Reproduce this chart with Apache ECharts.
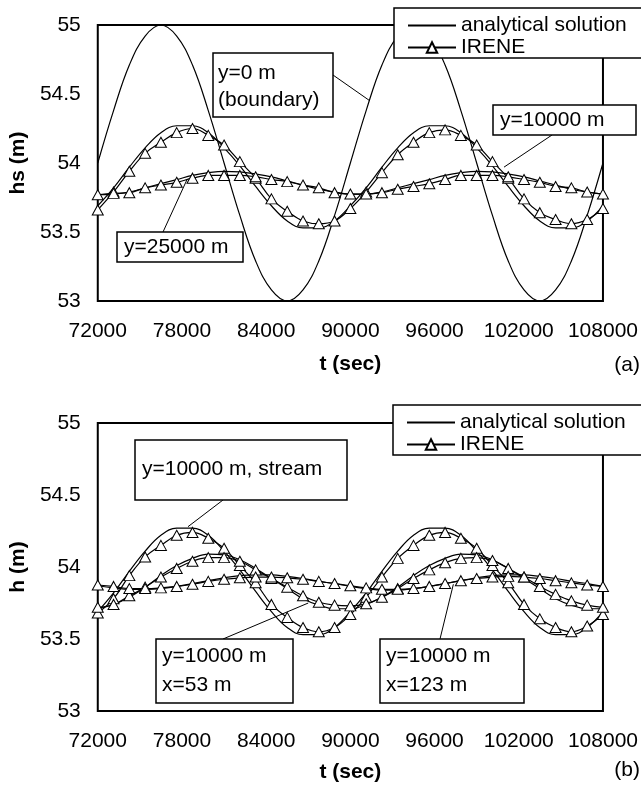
<!DOCTYPE html>
<html>
<head>
<meta charset="utf-8">
<script src="https://cdn.jsdelivr.net/npm/echarts@6/dist/echarts.min.js"></script>
<style>
  html, body { margin: 0; padding: 0; background: #fff; }
  #chart { width: 641px; height: 787px; }
</style>
</head>
<body>
<div id="chart"></div>
<script>
// time axis (sec), one IRENE output every 1125 s
var times = [72000, 73125, 74250, 75375, 76500, 77625, 78750, 79875, 81000, 82125, 83250,
  84375, 85500, 86625, 87750, 88875, 90000, 91125, 92250, 93375, 94500, 95625, 96750,
  97875, 99000, 100125, 101250, 102375, 103500, 104625, 105750, 106875, 108000];
var xTicks = { min: 72000, max: 108000, step: 6000 };
var yTicks = { min: 53, max: 55, step: 0.5 };

// (a) hs at y=0, 10000, 25000 m
var boundaryExact = [54.00, 54.38, 54.71, 54.92, 55.00, 54.92, 54.71, 54.38, 54.00, 53.62, 53.29,
  53.08, 53.00, 53.08, 53.29, 53.62, 54.00, 54.38, 54.71, 54.92, 55.00, 54.92, 54.71,
  54.38, 54.00, 53.62, 53.29, 53.08, 53.00, 53.08, 53.29, 53.62, 54.00];
var y10kExact = [53.69, 53.82, 53.97, 54.11, 54.22, 54.27, 54.27, 54.22, 54.11, 53.98, 53.83,
  53.69, 53.58, 53.53, 53.53, 53.58, 53.69, 53.82, 53.97, 54.11, 54.22, 54.27, 54.27,
  54.22, 54.11, 53.98, 53.83, 53.69, 53.58, 53.53, 53.53, 53.58, 53.69];
var y10kIrene = [53.66, 53.79, 53.94, 54.07, 54.15, 54.22, 54.25, 54.20, 54.13, 54.01, 53.89,
  53.74, 53.65, 53.58, 53.56, 53.58, 53.67, 53.79, 53.93, 54.06, 54.15, 54.22, 54.24,
  54.20, 54.13, 54.01, 53.89, 53.74, 53.64, 53.59, 53.56, 53.59, 53.67];
var y25kExact = [53.77, 53.775, 53.79, 53.82, 53.85, 53.88, 53.91, 53.93, 53.94, 53.935, 53.92,
  53.90, 53.87, 53.84, 53.81, 53.79, 53.775, 53.775, 53.79, 53.82, 53.85, 53.88, 53.91,
  53.93, 53.94, 53.935, 53.92, 53.90, 53.87, 53.84, 53.81, 53.79, 53.775];
var y25kIrene = [53.77, 53.78, 53.785, 53.82, 53.84, 53.86, 53.89, 53.91, 53.91, 53.91, 53.90,
  53.88, 53.865, 53.84, 53.82, 53.785, 53.775, 53.775, 53.785, 53.81, 53.83, 53.85, 53.88,
  53.91, 53.91, 53.91, 53.90, 53.88, 53.86, 53.83, 53.82, 53.79, 53.775];

// (b) h at y=10000 m: stream, x=53 m, x=123 m
var streamExact = [53.69, 53.82, 53.97, 54.11, 54.22, 54.27, 54.27, 54.22, 54.11, 53.98, 53.83,
  53.69, 53.58, 53.53, 53.53, 53.58, 53.69, 53.82, 53.97, 54.11, 54.22, 54.27, 54.27,
  54.22, 54.11, 53.98, 53.83, 53.69, 53.58, 53.53, 53.53, 53.58, 53.69];
var streamIrene = [53.68, 53.78, 53.94, 54.07, 54.15, 54.22, 54.24, 54.20, 54.13, 54.01, 53.89,
  53.74, 53.65, 53.58, 53.55, 53.58, 53.67, 53.79, 53.93, 54.06, 54.15, 54.22, 54.24,
  54.20, 54.13, 54.01, 53.89, 53.74, 53.64, 53.58, 53.55, 53.59, 53.67];
var x53Exact = [53.71, 53.74, 53.79, 53.86, 53.94, 54.01, 54.06, 54.09, 54.085, 54.05, 53.99,
  53.92, 53.85, 53.78, 53.735, 53.71, 53.71, 53.74, 53.79, 53.86, 53.94, 54.01, 54.06,
  54.09, 54.085, 54.05, 53.99, 53.92, 53.85, 53.78, 53.735, 53.71, 53.71];
var x53Irene = [53.72, 53.74, 53.80, 53.86, 53.93, 53.99, 54.04, 54.065, 54.065, 54.04, 53.98,
  53.92, 53.86, 53.80, 53.755, 53.735, 53.73, 53.745, 53.79, 53.85, 53.92, 53.98, 54.03,
  54.06, 54.065, 54.045, 53.99, 53.93, 53.865, 53.81, 53.765, 53.735, 53.72];
var x123Exact = [53.87, 53.855, 53.845, 53.845, 53.85, 53.865, 53.885, 53.905, 53.925, 53.94, 53.945,
  53.945, 53.935, 53.92, 53.90, 53.885, 53.865, 53.85, 53.84, 53.84, 53.85, 53.865, 53.885,
  53.905, 53.925, 53.94, 53.945, 53.945, 53.935, 53.92, 53.90, 53.885, 53.865];
var x123Irene = [53.875, 53.865, 53.85, 53.85, 53.855, 53.865, 53.88, 53.90, 53.915, 53.925, 53.93,
  53.93, 53.925, 53.915, 53.90, 53.885, 53.87, 53.855, 53.845, 53.845, 53.85, 53.865, 53.885,
  53.905, 53.92, 53.93, 53.935, 53.93, 53.92, 53.905, 53.89, 53.875, 53.865];

var FONT = '"Liberation Sans", Arial, sans-serif';
var chart = echarts.init(document.getElementById('chart'));

function pairs(vals) {
  return times.map(function (t, i) { return [t, vals[i]]; });
}
function exact(vals, k) {
  return {
    name: 'analytical solution', type: 'line', xAxisIndex: k, yAxisIndex: k,
    data: pairs(vals), smooth: 0.4, symbol: 'none',
    lineStyle: { color: '#000', width: 1.2 }, itemStyle: { color: '#000' }, z: 3
  };
}
function irene(vals, k) {
  return {
    name: 'IRENE', type: 'line', xAxisIndex: k, yAxisIndex: k,
    data: pairs(vals), smooth: 0.4, symbol: 'triangle', symbolSize: [11, 10],
    showSymbol: true, showAllSymbol: true,
    lineStyle: { color: '#000', width: 1.2 },
    itemStyle: { color: '#fff', borderColor: '#000', borderWidth: 1 }, z: 4
  };
}
function xAx(k, gap) {
  return {
    type: 'value', gridIndex: k, min: xTicks.min, max: xTicks.max, interval: xTicks.step,
    name: 't (sec)', nameLocation: 'middle', nameGap: gap,
    nameTextStyle: { fontFamily: FONT, fontSize: 21, fontWeight: 'bold', color: '#000', lineHeight: 21 },
    axisLine: { show: false }, axisTick: { show: false }, splitLine: { show: false },
    axisLabel: { fontFamily: FONT, fontSize: 21, color: '#000', margin: 20, lineHeight: 21,
      showMinLabel: true, showMaxLabel: true,
      formatter: function (v) { return String(v); } }
  };
}
function yAx(k, name, gap) {
  return {
    type: 'value', gridIndex: k, min: yTicks.min, max: yTicks.max, interval: yTicks.step,
    name: name, nameLocation: 'middle', nameGap: gap,
    nameTextStyle: { fontFamily: FONT, fontSize: 21, fontWeight: 'bold', color: '#000', lineHeight: 21 },
    axisLine: { show: false }, axisTick: { show: false }, splitLine: { show: false },
    axisLabel: { fontFamily: FONT, fontSize: 21, color: '#000', margin: 17 }
  };
}
function legend(left, top) {
  return {
    left: left, top: top, orient: 'vertical', itemGap: 1,
    itemWidth: 48, itemHeight: 13, padding: [7, 30, 0, 13],
    backgroundColor: '#fff', borderColor: '#000', borderWidth: 1.5, borderRadius: 0,
    data: [
      { name: 'analytical solution', itemStyle: { opacity: 0 } },
      { name: 'IRENE' }
    ],
    textStyle: { fontFamily: FONT, fontSize: 21, color: '#000', lineHeight: 20 },
    z: 20
  };
}

chart.setOption({
  animation: false,
  backgroundColor: '#fff',
  textStyle: { fontFamily: FONT },
  grid: [
    { left: 94, top: 25, width: 511, height: 276, show: true, borderColor: '#000', borderWidth: 2 },
    { left: 97, top: 423, width: 511, height: 288, show: true, borderColor: '#000', borderWidth: 2 }
  ],
  legend: [legend(394, 8), legend(393, 405)],
  xAxis: [xAx(0, 53), xAx(1, 51)],
  yAxis: [yAx(0, 'hs (m)', 58), yAx(1, 'h (m)', 61)],
  series: [
    exact(boundaryExact, 0), exact(y10kExact, 0), exact(y25kExact, 0),
    irene(y10kIrene, 0), irene(y25kIrene, 0),
    exact(streamExact, 1), exact(x53Exact, 1), exact(x123Exact, 1),
    irene(streamIrene, 1), irene(x53Irene, 1), irene(x123Irene, 1)
  ]
});

// annotation boxes with leader lines pointing at the curves
var els = [];
function box(x, y, w, h) {
  els.push({ type: 'rect', shape: { x: x, y: y, width: w, height: h }, z: 30,
    style: { fill: '#fff', stroke: '#000', lineWidth: 1.5 } });
}
function label(x, y, s, align) {
  els.push({ type: 'text', x: x, y: y, z: 31,
    style: { text: s, font: '21px ' + FONT, fill: '#000', align: align || 'left', verticalAlign: 'middle' } });
}
function leader(x, y, k, pt) {
  var p = chart.convertToPixel({ gridIndex: k }, pt);
  els.push({ type: 'line', z: 29, shape: { x1: x, y1: y, x2: p[0], y2: p[1] },
    style: { stroke: '#000', lineWidth: 1 } });
}

leader(333, 75, 0, [91400, 54.45]);
box(213, 53, 120, 64);
label(218, 73, 'y=0 m');
label(218, 100, '(boundary)');

leader(552, 135, 0, [100950, 53.97]);
box(493, 105, 143, 30);
label(500, 120, 'y=10000 m');

leader(163, 232, 0, [78360, 53.88]);
box(117, 232, 126, 30);
label(124, 247, 'y=25000 m');

leader(223, 500, 1, [78430, 54.28]);
box(135, 440, 212, 60);
label(142, 469, 'y=10000 m, stream');

leader(223, 639, 1, [87000, 53.75]);
box(156, 639, 137, 64);
label(162, 656, 'y=10000 m');
label(162, 685, 'x=53 m');

leader(440, 639, 1, [97340, 53.88]);
box(380, 639, 144, 64);
label(386, 656, 'y=10000 m');
label(386, 685, 'x=123 m');

label(640, 365, '(a)', 'right');
label(640, 770, '(b)', 'right');

chart.setOption({ graphic: els });
</script>
</body>
</html>
